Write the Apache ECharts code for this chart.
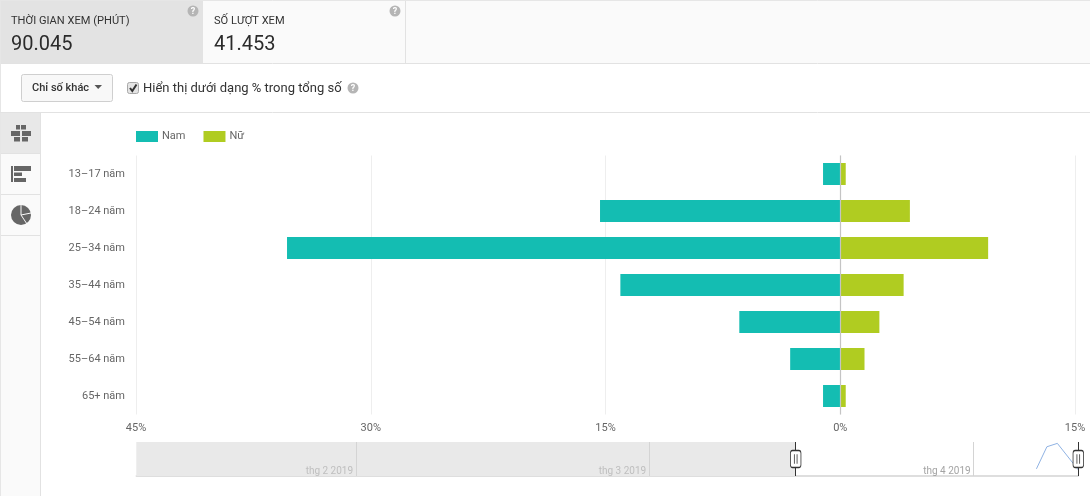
<!DOCTYPE html>
<html>
<head>
<meta charset="utf-8">
<style>html,body{margin:0;padding:0;background:#fff}#c{width:1090px;height:496px}</style>
<script src="https://cdn.jsdelivr.net/npm/echarts@6/dist/echarts.min.js"></script>
</head>
<body>
<div id="c"></div>
<script>
const ageGroups = ['13–17 năm','18–24 năm','25–34 năm','35–44 năm','45–54 năm','55–64 năm','65+ năm'];
const malePercent = [1.1,15.35,35.35,14.05,6.45,3.2,1.1];
const femalePercent = [0.35,4.45,9.45,4.05,2.5,1.55,0.35];
const seriesNames = ['Nam','Nữ'];
const sparkDates = ['2019-04-07','2019-04-08','2019-04-09','2019-04-11'];
const sparkValues = [21,86,96,18];
const monthStarts = ['2019-02-01','2019-03-01','2019-04-01'];
const monthLabels = ['thg 2 2019','thg 3 2019','thg 4 2019'];
const timeStart = '2019-01-11';
const selectStart = '2019-03-15';
const timeEnd = '2019-04-11';

const FONT = 'Roboto, "Noto Sans", sans-serif';
const ts = s => Date.parse(s + 'T00:00:00Z');
const rect = (x,y,w,h,fill,extra) => Object.assign({type:'rect',shape:{x,y,width:w,height:h},style:{fill},silent:true},extra||{});
const line = (x1,y1,x2,y2,stroke,lw) => ({type:'line',shape:{x1,y1,x2,y2},style:{stroke,lineWidth:lw||1},silent:true});
const label = (x,y,text,size,fill,weight) => ({type:'text',x,y,silent:true,style:{text,fontFamily:FONT,fontSize:size,fill,fontWeight:weight||'normal',verticalAlign:'middle',align:'left'}});
const help = (cx,cy) => [
  {type:'circle',shape:{cx,cy,r:5.5},style:{fill:'#b5b5b5'},silent:true},
  {type:'text',x:cx,y:cy+0.5,silent:true,style:{text:'?',fontFamily:FONT,fontSize:9,fontWeight:'bold',fill:'#fff',align:'center',verticalAlign:'middle'}}
];

const chrome = [
  rect(0,0,1090,63,'#fafafa'),
  line(0,0.5,1090,0.5,'#e6e6e6'),
  line(0,63.5,1090,63.5,'#e2e2e2'),
  rect(1,1,202,62,'#e3e3e3'),
  line(405.5,1,405.5,63,'#e2e2e2'),
  line(0.5,0,0.5,496,'#e6e6e6'),
  label(11,21,'THỜI GIAN XEM (PHÚT)',11.1,'#333'),
  label(11,45,'90.045',20,'#2b2b2b'),
  label(214,21,'SỐ LƯỢT XEM',11.1,'#333'),
  label(214,45,'41.453',20,'#2b2b2b'),
  ...help(193,11), ...help(395,11),
  {type:'rect',shape:{x:21.5,y:74.5,width:91,height:27,r:2},style:{fill:'#f8f8f8',stroke:'#cfcfcf'},silent:true},
  label(32,88,'Chỉ số khác',11,'#333','500'),
  {type:'polygon',shape:{points:[[94.5,85],[102,85],[98.2,89]]},style:{fill:'#555'},silent:true},
  {type:'rect',shape:{x:127.5,y:82.5,width:11,height:11,r:2},style:{fill:'#e4e4e4',stroke:'#a8a8a8'},silent:true},
  {type:'polyline',shape:{points:[[130,88],[132.3,91],[136.5,84.5]]},style:{fill:null,stroke:'#333',lineWidth:2},silent:true},
  label(143,88.5,'Hiển thị dưới dạng % trong tổng số',13,'#333'),
  ...help(353,88),
  line(0,112.5,1090,112.5,'#e2e2e2'),
  rect(1,113,39,383,'#fafafa'),
  line(40.5,113,40.5,496,'#e2e2e2'),
  rect(1,113,39,40,'#e8e8e8'),
  line(1,153.5,40,153.5,'#e2e2e2'),
  line(1,194.5,40,194.5,'#e2e2e2'),
  line(1,235.5,40,235.5,'#e2e2e2'),
  // grid icon
  rect(16,125,4,4.5,'#666'), rect(21,125,5,4.5,'#666'),
  rect(11,131,9,5,'#666'), rect(22,131,9,5,'#666'),
  rect(14,137,6,4.5,'#666'), rect(22,137,6,4.5,'#666'),
  // bars icon
  rect(11,166,2,16,'#666'), rect(14,166,17,5,'#666'), rect(14,172.5,8,3.5,'#666'), rect(14,178,12,4,'#666'),
  // pie icon
  {type:'circle',shape:{cx:21,cy:215,r:10},style:{fill:'#666'},silent:true},
  line(21,205,21,215,'#fafafa',1),
  line(21,215,31,213,'#fafafa',1),
  line(21,215,27,224,'#fafafa',1)
];

const handleGlyph = 'path://M2 0 H8 Q10 0 10 3 V15 Q10 18 8 18 H2 Q0 18 0 15 V3 Q0 0 2 0 Z M3.7 4 V14 M6.3 4 V14';

const option = {
  animation: false,
  useUTC: true,
  backgroundColor: '#fff',
  textStyle: {fontFamily: FONT},
  color: ['#14bdb2','#b0cc21'],
  legend: {
    left: 136, top: 131, padding: 0, itemWidth: 22, itemHeight: 11, itemGap: 18,
    icon: 'rect', data: seriesNames,
    textStyle: {color:'#666', fontSize: 11, fontFamily: FONT, padding:[1,0,0,-1]}
  },
  graphic: {elements: chrome.map(e => Object.assign({z:-1,zlevel:0},e))},
  grid: [
    {left:136, width:939, top:155.5, height:259},
    {left:136.3, width:942, top:442, height:34}
  ],
  xAxis: [
    {type:'value', gridIndex:0, min:-45, max:15, interval:15,
     axisLine:{show:false}, axisTick:{show:false},
     splitLine:{lineStyle:{color:'#eeeeee',width:1}},
     axisLabel:{color:'#666',fontSize:11,fontFamily:FONT,margin:8,formatter:v=>Math.abs(v)+'%',hideOverlap:false}},
    {type:'time', gridIndex:1, min:ts(timeStart), max:ts(timeEnd),
     axisLabel:{show:false}, axisTick:{show:false}, splitLine:{show:false},
     axisLine:{show:true,lineStyle:{color:'#d4d4d4',width:1.5}}}
  ],
  yAxis: [
    {type:'category', gridIndex:0, inverse:true, data:ageGroups,
     axisLine:{show:false}, axisTick:{show:false}, splitLine:{show:false},
     axisLabel:{color:'#666',fontSize:11,fontFamily:FONT,margin:11,padding:[2,0,0,0]}},
    {type:'value', gridIndex:1, min:0, max:100, show:false}
  ],
  series: [
    {name:seriesNames[0], type:'bar', stack:'g', xAxisIndex:0, yAxisIndex:0, barWidth:22,
     data:malePercent.map(v=>-v), itemStyle:{color:'#14bdb2'}},
    {name:seriesNames[1], type:'bar', stack:'g', xAxisIndex:0, yAxisIndex:0, barWidth:22,
     data:femalePercent, itemStyle:{color:'#b0cc21'},
     markLine:{silent:true,symbol:'none',label:{show:false},animation:false,z:5,
       lineStyle:{color:'#c4c4c4',width:1.2,type:'solid'},data:[{xAxis:0}]}},
    {name:'spark', type:'line', xAxisIndex:1, yAxisIndex:1, symbol:'none', z:3,
     lineStyle:{color:'#8fb2e3',width:1},
     data:sparkDates.map((d,i)=>[ts(d),sparkValues[i]]),
     markArea:{silent:true,itemStyle:{color:'#e9e9e9'},label:{show:false},
       data:[[{xAxis:ts(timeStart)},{xAxis:ts(selectStart)}]]},
     markLine:{silent:true,symbol:'none',label:{show:false},
       lineStyle:{color:'#d4d4d4',width:1,type:'solid'},
       data:monthStarts.map(d=>({xAxis:ts(d)}))}},
    {name:'months', type:'scatter', xAxisIndex:1, yAxisIndex:1, symbolSize:0, z:4, silent:true,
     data:monthStarts.map((d,i)=>({value:[ts(d),14],
       label:{show:true,position:'left',distance:3,formatter:monthLabels[i],fontSize:10,fontFamily:FONT,
              color:ts(d)<ts(selectStart)?'#b4b4b4':'#8c8c8c'}}))},
    {name:'handles', type:'scatter', xAxisIndex:1, yAxisIndex:1, z:6, silent:true, symbol:handleGlyph,
     symbolSize:[10.5,17], symbolKeepAspect:false,
     itemStyle:{color:'#fff',borderColor:'#333',borderWidth:1,opacity:1},
     data:[[ts(selectStart),50],[ts(timeEnd),50]],
     clip:false,
     markLine:{silent:true,symbol:'none',label:{show:false},
       lineStyle:{color:'#333',width:1,type:'solid'},z:5,
       data:[{xAxis:ts(selectStart)},{xAxis:ts(timeEnd)}]}}
  ]
};
const chart = echarts.init(document.getElementById('c'),null,{renderer:'canvas'});
chart.setOption(option);
</script>
</body>
</html>
